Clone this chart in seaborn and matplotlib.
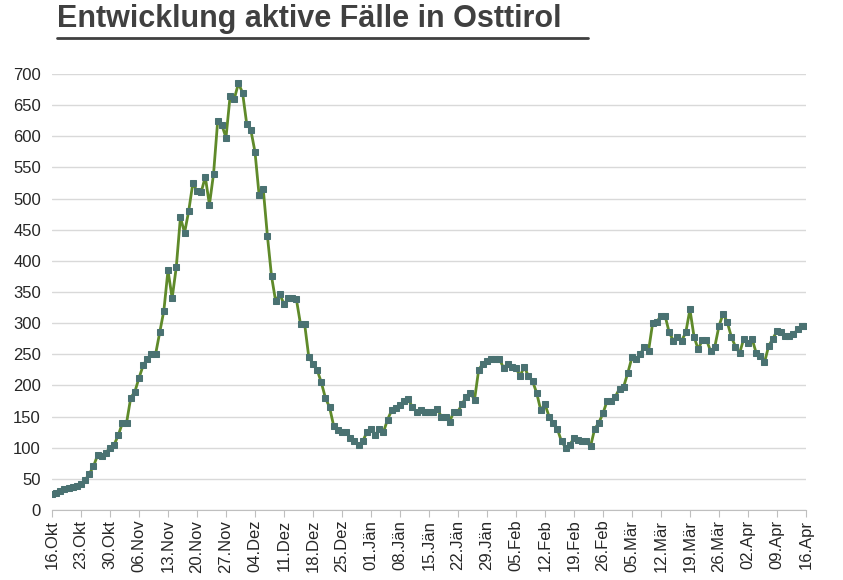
import matplotlib
matplotlib.use("Agg")
import matplotlib.pyplot as plt
import seaborn as sns
import pandas as pd
import numpy as np

# daily active cases, 16 Oct 2020 - 16 Apr 2021
values = [
    25, 27, 30, 33, 35, 37, 39,
    42, 48, 58, 70, 88, 87, 92,
    100, 105, 120, 140, 140, 180, 190,
    212, 232, 243, 250, 250, 285, 320,
    385, 340, 390, 470, 445, 480, 525,
    512, 510, 535, 490, 540, 625, 618,
    598, 665, 660, 685, 670, 620, 610,
    575, 505, 515, 440, 375, 335, 347,
    330, 340, 340, 338, 298, 298, 245,
    235, 225, 205, 180, 165, 135, 128,
    125, 125, 115, 110, 105, 110, 125,
    130, 120, 130, 125, 145, 160, 163,
    168, 175, 178, 165, 158, 160, 157,
    157, 158, 162, 150, 150, 142, 158,
    158, 170, 182, 188, 177, 225, 235,
    240, 242, 242, 243, 228, 235, 230,
    228, 215, 230, 215, 207, 188, 160,
    170, 150, 140, 130, 110, 100, 105,
    115, 112, 110, 110, 102, 130, 140,
    155, 175, 175, 182, 195, 198, 220,
    245, 243, 250, 262, 255, 300, 302,
    312, 312, 285, 272, 278, 272, 285,
    322, 278, 258, 273, 273, 255, 262,
    295, 315, 302, 278, 262, 252, 275,
    268, 275, 252, 248, 237, 263, 275,
    287, 285, 280, 280, 282, 290, 295,
    295,
]
tick_labels = ["16.Okt", "23.Okt", "30.Okt", "06.Nov", "13.Nov", "20.Nov", "27.Nov",
               "04.Dez", "11.Dez", "18.Dez", "25.Dez", "01.Jän", "08.Jän", "15.Jän",
               "22.Jän", "29.Jän", "05.Feb", "12.Feb", "19.Feb", "26.Feb", "05.Mär",
               "12.Mär", "19.Mär", "26.Mär", "02.Apr", "09.Apr", "16.Apr"]

df = pd.DataFrame({"day": np.arange(len(values)), "cases": values})

sns.set_style("white")
plt.rcParams['font.family'] = ['Liberation Sans', 'DejaVu Sans']

fig = plt.figure(figsize=(8.43, 5.8), dpi=100)
ax = fig.add_axes([0.0617, 0.1207, 0.8943, 0.7517])

sns.lineplot(data=df, x="day", y="cases", ax=ax, color="#5f8a2a", linewidth=2,
             marker="s", markersize=4.5, markerfacecolor="#4a7272",
             markeredgecolor="#4a7272")

ax.set_xlim(0, len(values) - 1)
ax.set_ylim(0, 700)
ax.set_yticks(range(0, 701, 50))
ax.set_xticks(range(0, len(values), 7))
ax.set_xticklabels(tick_labels, rotation=90, fontsize=12)
ax.tick_params(axis="y", labelsize=12, length=0, pad=8)
ax.tick_params(axis="x", length=5, color="#bfbfbf", bottom=True, pad=2)
ax.yaxis.grid(True, color="#d9d9d9", linewidth=1)
ax.set_axisbelow(True)
for s in ["left", "right", "top"]:
    ax.spines[s].set_visible(False)
ax.spines["bottom"].set_color("#bfbfbf")
ax.set_xlabel("")
ax.set_ylabel("")

# title with underline
fig.text(0.068, 0.968, "Entwicklung aktive Fälle in Osttirol", fontsize=22,
         fontweight="bold", color="#404040", ha="left", va="center")
fig.add_artist(plt.Line2D([0.068, 0.697], [0.935, 0.935], color="#404040", linewidth=2))

fig.savefig("out.png", dpi=100)
